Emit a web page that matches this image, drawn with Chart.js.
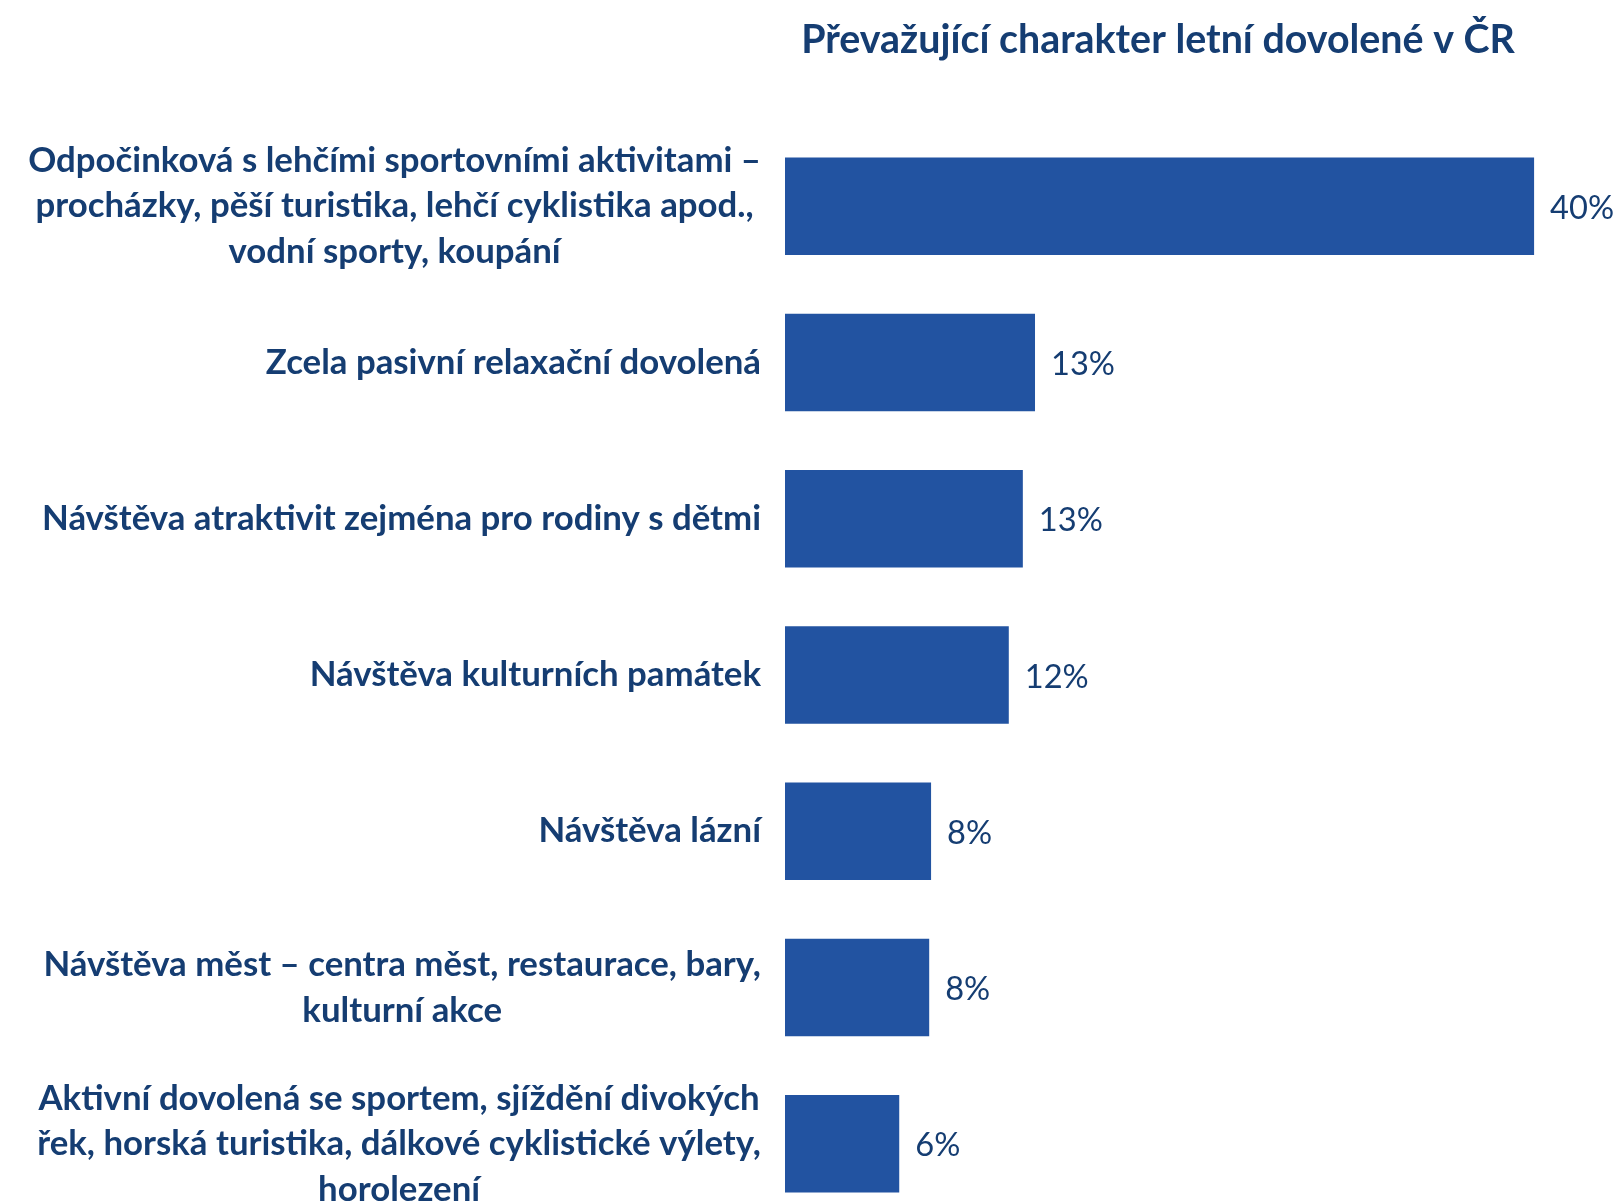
<!DOCTYPE html>
<html>
<head>
<meta charset="utf-8">
<script src="https://cdn.jsdelivr.net/npm/chart.js@4.4.1/dist/chart.umd.min.js"></script>
<style>
  html, body { margin: 0; padding: 0; background: #fff; overflow: hidden; }
  #wrap { position: relative; width: 1623px; height: 1240px; }
</style>
</head>
<body>
<div id="wrap"><canvas id="chart"></canvas></div>
<script>
const chartTitle = "Převažující charakter letní dovolené v ČR";

const categories = [
  ["Odpočinková s lehčími sportovními aktivitami –", "procházky, pěší turistika, lehčí cyklistika apod.,", "vodní sporty, koupání"],
  ["Zcela pasivní relaxační dovolená"],
  ["Návštěva atraktivit zejména pro rodiny s dětmi"],
  ["Návštěva kulturních památek"],
  ["Návštěva lázní"],
  ["Návštěva měst – centra měst, restaurace, bary,", "kulturní akce"],
  ["Aktivní dovolená se sportem, sjíždění divokých", "řek, horská turistika, dálkové cyklistické výlety,", "horolezení"]
];

const shares = [40.0, 13.35, 12.7, 11.95, 7.8, 7.7, 6.1];
const valueLabels = ["40%", "13%", "13%", "12%", "8%", "8%", "6%"];

const barColor = "#2253A1";
const textColor = "#153D72";
const fontFamily = "Lato, 'Open Sans', sans-serif";

// fit a font size so that a given text is the given width
function fitSize(ctx, weight, text, width) {
  ctx.font = `${weight} 100px ${fontFamily}`;
  return 100 * width / ctx.measureText(text).width;
}

const textPlugin = {
  id: "textPlugin",
  afterDraw(chart) {
    const ctx = chart.ctx;
    const yScale = chart.scales.y;
    const meta = chart.getDatasetMeta(0);
    ctx.save();
    ctx.fillStyle = textColor;
    ctx.textBaseline = "middle";

    // category labels: block right aligned, lines centred inside the block
    const labelSize = fitSize(ctx, "bold", categories[0][0], 733);
    const lineHeight = 45.5;
    const labelRight = 761;
    ctx.font = `bold ${labelSize}px ${fontFamily}`;
    ctx.textAlign = "center";
    categories.forEach((lines, i) => {
      const yc = yScale.getPixelForValue(i);
      const maxW = Math.max(...lines.map(l => ctx.measureText(l).width));
      const cx = labelRight - maxW / 2;
      lines.forEach((l, j) => {
        ctx.fillText(l, cx, yc + (j - (lines.length - 1) / 2) * lineHeight);
      });
    });

    // value labels
    const valueSize = fitSize(ctx, "normal", "13%", 64);
    ctx.font = `normal ${valueSize}px ${fontFamily}`;
    ctx.textAlign = "left";
    meta.data.forEach((bar, i) => {
      ctx.fillText(valueLabels[i], bar.x + 16, bar.y + 2);
    });

    // title
    const titleSize = fitSize(ctx, "bold", chartTitle, 714);
    ctx.font = `bold ${titleSize}px ${fontFamily}`;
    ctx.textAlign = "center";
    ctx.fillText(chartTitle, 1158, 40);
    ctx.restore();
  }
};

new Chart(document.getElementById("chart"), {
  type: "bar",
  data: {
    labels: categories,
    datasets: [{
      data: shares,
      backgroundColor: barColor,
      borderWidth: 0,
      categoryPercentage: 1.0,
      barPercentage: 0.624
    }]
  },
  options: {
    indexAxis: "y",
    responsive: true,
    maintainAspectRatio: false,
    animation: false,
    layout: { padding: { left: 785, right: 14, top: 128, bottom: 18 } },
    plugins: {
      legend: { display: false },
      tooltip: { enabled: false },
      title: { display: false }
    },
    scales: {
      x: { display: false, min: 0, max: 44 },
      y: { display: false }
    }
  },
  plugins: [textPlugin]
});
</script>
</body>
</html>
